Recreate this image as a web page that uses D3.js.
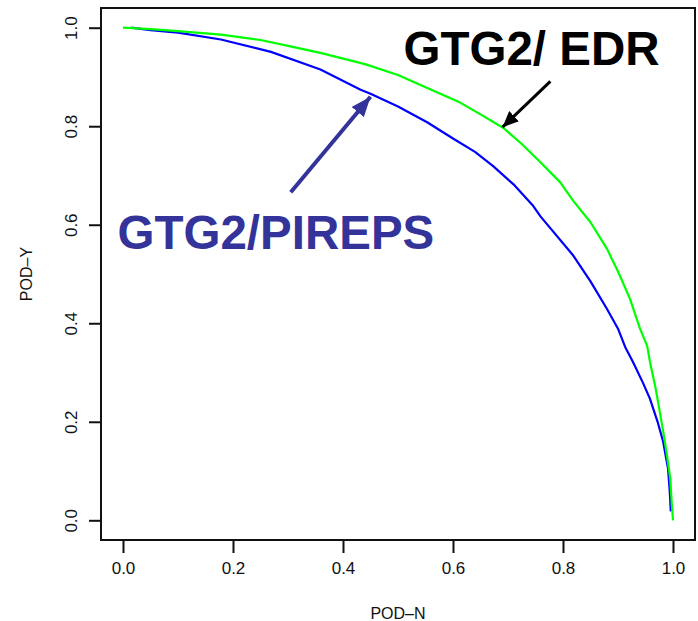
<!DOCTYPE html>
<html>
<head>
<meta charset="utf-8">
<script src="https://cdn.jsdelivr.net/npm/d3@7"></script>
<style>
  body { margin: 0; background: #fff; }
  svg { display: block; font-family: "Liberation Sans", Arial, sans-serif; }
</style>
</head>
<body>
<svg id="chart"></svg>
<script>
// POD-N / POD-Y pairs
const podN_edr = [0.0, 0.05, 0.1, 0.178, 0.25, 0.3, 0.359, 0.44, 0.5, 0.55, 0.613, 0.65, 0.691, 0.725, 0.759, 0.795, 0.819, 0.85, 0.88, 0.9, 0.922, 0.94, 0.953, 0.958, 0.968, 0.976, 0.983, 0.989, 0.995, 0.998, 1.0];
const podY_edr = [1.0, 0.997, 0.993, 0.986, 0.975, 0.963, 0.949, 0.926, 0.904, 0.879, 0.848, 0.824, 0.797, 0.764, 0.727, 0.686, 0.648, 0.605, 0.551, 0.505, 0.449, 0.389, 0.354, 0.322, 0.27, 0.22, 0.175, 0.132, 0.085, 0.03, 0.0];

const podN_pireps = [0.015, 0.05, 0.1, 0.178, 0.269, 0.359, 0.432, 0.45, 0.5, 0.553, 0.6, 0.64, 0.673, 0.71, 0.746, 0.759, 0.819, 0.85, 0.88, 0.9, 0.913, 0.927, 0.945, 0.958, 0.972, 0.982, 0.991, 0.994, 0.996];
const podY_pireps = [1.0, 0.995, 0.99, 0.976, 0.951, 0.915, 0.874, 0.866, 0.84, 0.808, 0.775, 0.748, 0.719, 0.682, 0.638, 0.617, 0.537, 0.485, 0.429, 0.389, 0.352, 0.322, 0.28, 0.247, 0.2, 0.16, 0.105, 0.06, 0.018];

const tickValues = [0.0, 0.2, 0.4, 0.6, 0.8, 1.0];

const width = 698, height = 621;
const margins = { top: 8, bottom: 81, left: 101, right: 3 };

const svg = d3.select('#chart').attr('width', width).attr('height', height);

// R style: 4% padding on each side of the data range
const x = d3.scaleLinear().domain([-0.04, 1.04]).range([margins.left, width - margins.right]);
const y = d3.scaleLinear().domain([-0.04, 1.04]).range([height - margins.bottom, margins.top]);

const xAxis = d3.axisBottom(x).tickValues(tickValues).tickSize(13).tickPadding(9).tickFormat(d3.format('.1f'));
const yAxis = d3.axisLeft(y).tickValues(tickValues).tickSize(12).tickPadding(0).tickFormat(d3.format('.1f'));

const gx = svg.append('g')
  .attr('transform', `translate(0,${y(-0.04)})`)
  .call(xAxis);
gx.select('.domain').remove();
gx.selectAll('line').attr('stroke', '#111').attr('stroke-width', 2);
gx.selectAll('text').attr('font-size', 17).attr('fill', '#111')
  .attr('font-family', '"Liberation Sans", Arial, sans-serif');

const gy = svg.append('g')
  .attr('transform', `translate(${x(-0.04)},0)`)
  .call(yAxis);
gy.select('.domain').remove();
gy.selectAll('line').attr('stroke', '#111').attr('stroke-width', 2);
gy.selectAll('text')
  .attr('font-size', 17).attr('fill', '#111')
  .attr('font-family', '"Liberation Sans", Arial, sans-serif')
  .attr('text-anchor', 'middle')
  .attr('x', null).attr('dy', null)
  .attr('transform', 'translate(-24,0) rotate(-90)');

// box
svg.append('rect')
  .attr('x', x(-0.04)).attr('y', y(1.04))
  .attr('width', x(1.04) - x(-0.04)).attr('height', y(-0.04) - y(1.04))
  .attr('fill', 'none').attr('stroke', '#111').attr('stroke-width', 2);

// axis titles
svg.append('text')
  .attr('x', x(0.5)).attr('y', 619)
  .attr('text-anchor', 'middle').attr('font-size', 16).attr('fill', '#111')
  .text('POD–N');
svg.append('text')
  .attr('transform', `translate(32,${y(0.5)}) rotate(-90)`)
  .attr('text-anchor', 'middle').attr('font-size', 16).attr('fill', '#111')
  .text('POD–Y');

const line = d3.line().x(d => x(d[0])).y(d => y(d[1]));

svg.append('path')
  .datum(d3.zip(podN_pireps, podY_pireps))
  .attr('fill', 'none').attr('stroke', '#0000ff').attr('stroke-width', 2.2)
  .attr('stroke-linejoin', 'round')
  .attr('d', line);

svg.append('path')
  .datum(d3.zip(podN_edr, podY_edr))
  .attr('fill', 'none').attr('stroke', '#00ff00').attr('stroke-width', 2.2)
  .attr('stroke-linejoin', 'round')
  .attr('d', line);

// annotations
const defs = svg.append('defs');
defs.append('marker').attr('id', 'headBlack')
  .attr('markerUnits', 'userSpaceOnUse')
  .attr('viewBox', '0 0 16 14').attr('refX', 16).attr('refY', 7)
  .attr('markerWidth', 16).attr('markerHeight', 14).attr('orient', 'auto')
  .append('path').attr('d', 'M0,0 L16,7 L0,14 Z').attr('fill', '#000');
defs.append('marker').attr('id', 'headBlue')
  .attr('markerUnits', 'userSpaceOnUse')
  .attr('viewBox', '0 0 20 16').attr('refX', 20).attr('refY', 8)
  .attr('markerWidth', 20).attr('markerHeight', 16).attr('orient', 'auto')
  .append('path').attr('d', 'M0,0 L20,8 L0,16 Z').attr('fill', '#333399');

svg.append('line')
  .attr('x1', x(0.777)).attr('y1', y(0.891))
  .attr('x2', x(0.690)).attr('y2', y(0.798))
  .attr('stroke', '#000').attr('stroke-width', 3)
  .attr('marker-end', 'url(#headBlack)');

svg.append('line')
  .attr('x1', x(0.305)).attr('y1', y(0.666))
  .attr('x2', x(0.450)).attr('y2', y(0.860))
  .attr('stroke', '#333399').attr('stroke-width', 4)
  .attr('marker-end', 'url(#headBlue)');

svg.append('text')
  .attr('x', x(0.510)).attr('y', y(0.925))
  .attr('font-size', 47.5).attr('font-weight', 'bold').attr('fill', '#000')
  .text('GTG2/ EDR');

svg.append('text')
  .attr('x', x(-0.01)).attr('y', y(0.551))
  .attr('font-size', 47.5).attr('font-weight', 'bold').attr('fill', '#333399')
  .text('GTG2/PIREPS');
</script>
</body>
</html>
